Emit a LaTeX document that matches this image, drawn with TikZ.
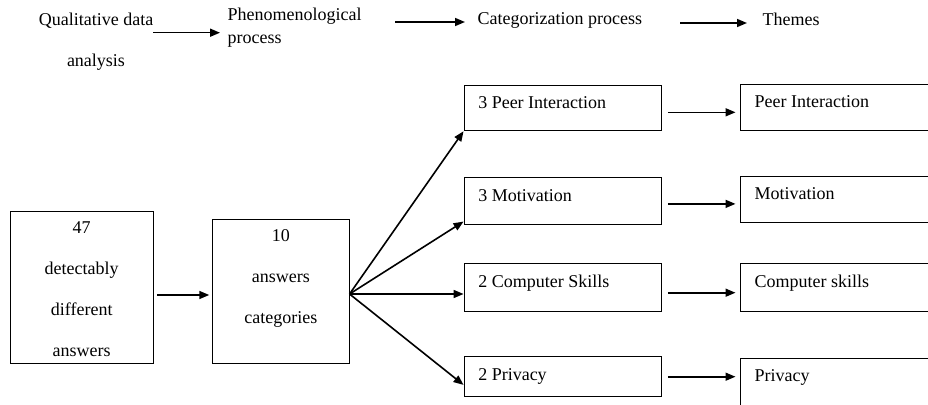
\documentclass[tikz,border=0pt]{standalone}
\usepackage{fontspec}
\setmainfont{Liberation Serif}
\usetikzlibrary{arrows.meta}
\begin{document}
\begin{tikzpicture}[x=1pt,y=-1pt,
  box/.style={draw, line width=1pt, inner sep=0pt},
  arr/.style={line width=1.6pt, -{Triangle[length=10pt,width=8pt]}},
  txt/.style={inner sep=0pt, font=\fontsize{18}{41}\selectfont},
  mtext/.style={label={[txt, anchor=base west, xshift=14.5pt, yshift=-24pt]north west:{#1}}},
  ltext/.style={label={[txt, align=center, anchor=north, yshift=-11pt]north:{#1}}}
]
\useasboundingbox (0,0) rectangle (928,404);
\clip (0,0) rectangle (928,404);

% top row
\node[txt, align=center, anchor=north] (q) at (96,12.7) {Qualitative data\\analysis};
\node[txt, align=left, anchor=north west, font=\fontsize{18}{23}\selectfont] (ph) at (227.5,7.7) {Phenomenological\\process};
\node[txt, anchor=base west] (cat) at (477.5,25) {Categorization process};
\node[txt, anchor=base west] (th) at (762.5,26) {Themes};

% left boxes
\node[box, minimum width=143.3pt, minimum height=152pt, ltext={47\\detectably\\different\\answers}] (b1) at (81.7,287) {};
\node[box, minimum width=136.3pt, minimum height=144pt, ltext={10\\answers\\categories}] (b2) at (280.9,291) {};

% middle boxes
\node[box, minimum width=197.7pt, minimum height=45.7pt, mtext={3 Peer Interaction}] (m1) at (562.9,107.9) {};
\node[box, minimum width=197.7pt, minimum height=46.3pt, mtext={3 Motivation}] (m2) at (562.9,200.9) {};
\node[box, minimum width=197.7pt, minimum height=47.3pt, mtext={2 Computer Skills}] (m3) at (562.9,287.4) {};
\node[box, minimum width=197.7pt, minimum height=39.3pt, mtext={2 Privacy}] (m4) at (562.9,376.4) {};

% right boxes (cut by the page edge)
\node[box, minimum width=260pt, minimum height=46.4pt, mtext={Peer Interaction}] (r1) at (870.5,107.5) {};
\node[box, minimum width=260pt, minimum height=46.5pt, mtext={Motivation}] (r2) at (870.5,199.3) {};
\node[box, minimum width=260pt, minimum height=47.3pt, mtext={Computer skills}] (r3) at (870.5,287.4) {};
\node[box, minimum width=260pt, minimum height=46.7pt, mtext={Privacy}] (r4) at (870.5,381.7) {};

% helper coordinates
\coordinate (t1) at (0,32.7);
\coordinate (t2) at (0,22);
\coordinate (t3) at (0,23);
\coordinate (c1) at (0,295);
\coordinate (fan) at ([yshift=-3pt]b2.east);

% top arrows
\draw[arr] (q.east |- t1) -- ([xshift=-7.5pt]ph.west |- t1);
\draw[arr] ([xshift=33.5pt]ph.east |- t2) -- ([xshift=-12.5pt]cat.west |- t2);
\draw[arr] ([xshift=38pt]cat.east |- t3) -- ([xshift=-15.5pt]th.west |- t3);

% left arrow
\draw[arr] ([xshift=3.5pt]b1.east |- c1) -- ([xshift=-3pt]b2.west |- c1);

% fan
\draw[arr] (fan) -- (m1.south west);
\draw[arr] (fan) -- ([yshift=3pt]m2.south west);
\draw[arr] (fan) -- (m3.west |- fan);
\draw[arr] (fan) -- ([yshift=-8.5pt]m4.west);

% middle to right
\draw[arr] ([xshift=5.5pt,yshift=-4.4pt]m1.east) -- ([xshift=-4.5pt,yshift=-4.4pt]m1.east -| r1.west);
\draw[arr] ([xshift=5.5pt,yshift=-3pt]m2.east) -- ([xshift=-4.5pt,yshift=-3pt]m2.east -| r2.west);
\draw[arr] ([xshift=5.5pt,yshift=-5.3pt]m3.east) -- ([xshift=-4.5pt,yshift=-5.3pt]m3.east -| r3.west);
\draw[arr] ([xshift=5.5pt,yshift=-0.3pt]m4.east) -- ([xshift=-4.5pt,yshift=-0.3pt]m4.east -| r4.west);
\end{tikzpicture}
\end{document}
